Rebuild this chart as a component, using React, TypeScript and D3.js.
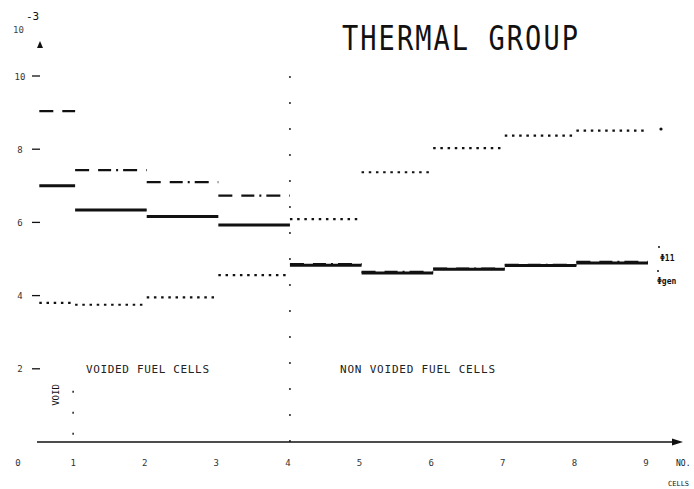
import React from "react";
import * as d3 from "d3";

// segment edges along the cells axis (first cell starts half-way)
const edges = [0.5, 1, 2, 3, 4, 5, 6, 7, 8, 9];

// flux values, units of 10^-3
const solidSeries = [7.0, 6.34, 6.16, 5.93, 4.83, 4.62, 4.72, 4.82, 4.89];
const dashDotSeries = [9.04, 7.43, 7.1, 6.73, 4.86, 4.65, 4.74, 4.84, 4.92];
const dottedSeries = [3.8, 3.75, 3.95, 4.56, 6.09, 7.37, 8.03, 8.37, 8.51];

const yTicks = [2, 4, 6, 8, 10];
const xTicks = [1, 2, 3, 4, 5, 6, 7, 8, 9];

const W = 694;
const H = 489;
const ink = "#111";
const mono = "'DejaVu Sans Mono', 'Liberation Mono', monospace";

const App = () => {
  const x = d3.scaleLinear().domain([0, 9]).range([3.5, 648]);
  const y = d3.scaleLinear().domain([0, 10]).range([442, 76]);
  const axisX = 40;

  const segs = (vals: number[]) =>
    vals.map((v, i) => ({ x1: x(edges[i]), x2: x(edges[i + 1]), y: y(v) }));

  const series = [
    { vals: solidSeries, width: 3, dash: "none" },
    { vals: dashDotSeries, width: 2.2, dash: "14 9 13 5 2 5" },
    { vals: dottedSeries, width: 2.2, dash: "2.5 4.7" },
  ];

  return (
    <svg
      width={W}
      height={H}
      style={{ display: "block", position: "absolute", left: 0, top: 0, background: "#fff" }}
    >
      <rect width={W} height={H} fill="#fff" />

      {/* title */}
      <text
        x={342}
        y={50}
        fontFamily={mono}
        fontSize={27}
        fill={ink}
        textLength={236}
        lengthAdjust="spacing"
        transform="translate(0,-12.5) scale(1,1.25)"
      >
        THERMAL  GROUP
      </text>

      {/* y axis scale marker */}
      <text x={26} y={20} fontFamily={mono} fontSize={11} fill={ink}>
        -3
      </text>
      <text x={13} y={33} fontFamily={mono} fontSize={9} fill="#444">
        10
      </text>
      <path d={`M${axisX - 3},48 L${axisX + 3},48 L${axisX},41 Z`} fill={ink} />

      {yTicks.map((t) => (
        <g key={t}>
          <line x1={axisX - 8} x2={axisX} y1={y(t)} y2={y(t)} stroke={ink} strokeWidth={1.3} />
          <text
            x={20}
            y={y(t) + 3.5}
            textAnchor="middle"
            fontFamily={mono}
            fontSize={9}
            fill="#333"
          >
            {t}
          </text>
        </g>
      ))}

      {/* x axis */}
      <line x1={37} x2={674} y1={y(0)} y2={y(0)} stroke={ink} strokeWidth={1.6} />
      <path d={`M672,${y(0) - 3.5} L683,${y(0)} L672,${y(0) + 3.5} Z`} fill={ink} />
      <text x={18} y={466} textAnchor="middle" fontFamily={mono} fontSize={9} fill="#333">
        0
      </text>
      {xTicks.map((t) => (
        <text
          key={t}
          x={x(t) - 2}
          y={466}
          textAnchor="middle"
          fontFamily={mono}
          fontSize={9}
          fill="#333"
        >
          {t}
        </text>
      ))}
      <text x={676} y={466} fontFamily={mono} fontSize={8} fill={ink}>
        NO.
      </text>
      <text x={668} y={486} fontFamily={mono} fontSize={7} fill={ink}>
        CELLS
      </text>

      {/* cell boundary markers */}
      <line
        x1={x(4)}
        x2={x(4)}
        y1={y(10)}
        y2={y(0)}
        stroke={ink}
        strokeWidth={1.4}
        strokeDasharray="2 24"
      />
      <line
        x1={x(1) - 2}
        x2={x(1) - 2}
        y1={y(1.4)}
        y2={y(0)}
        stroke={ink}
        strokeWidth={1.4}
        strokeDasharray="2 19"
      />
      <text
        transform={`translate(59,395) rotate(-90)`}
        textAnchor="middle"
        fontFamily={mono}
        fontSize={9}
        fill={ink}
      >
        VOID
      </text>

      <text
        x={86}
        y={373}
        fontFamily={mono}
        fontSize={11}
        fill="#222"
        textLength={123}
        lengthAdjust="spacing"
      >
        VOIDED FUEL CELLS
      </text>
      <text
        x={340}
        y={373}
        fontFamily={mono}
        fontSize={11}
        fill="#222"
        textLength={155}
        lengthAdjust="spacing"
      >
        NON VOIDED FUEL CELLS
      </text>

      {/* step series */}
      {series.map((s, si) =>
        segs(s.vals).map((d, i) => (
          <line
            key={`${si}-${i}`}
            x1={d.x1}
            x2={d.x2}
            y1={d.y}
            y2={d.y}
            stroke={ink}
            strokeWidth={s.width}
            strokeDasharray={s.dash}
          />
        ))
      )}

      {/* curve labels at the right end */}
      <circle cx={661} cy={129} r={1.6} fill={ink} />
      <circle cx={659} cy={247} r={1} fill={ink} />
      <text x={660} y={261} fontFamily={mono} fontSize={8} fontWeight="bold" fill={ink}>
        Φ11
      </text>
      <circle cx={658} cy={271} r={1} fill={ink} />
      <text x={657} y={284} fontFamily={mono} fontSize={8} fontWeight="bold" fill={ink}>
        Φgen
      </text>
    </svg>
  );
};

export default App;
